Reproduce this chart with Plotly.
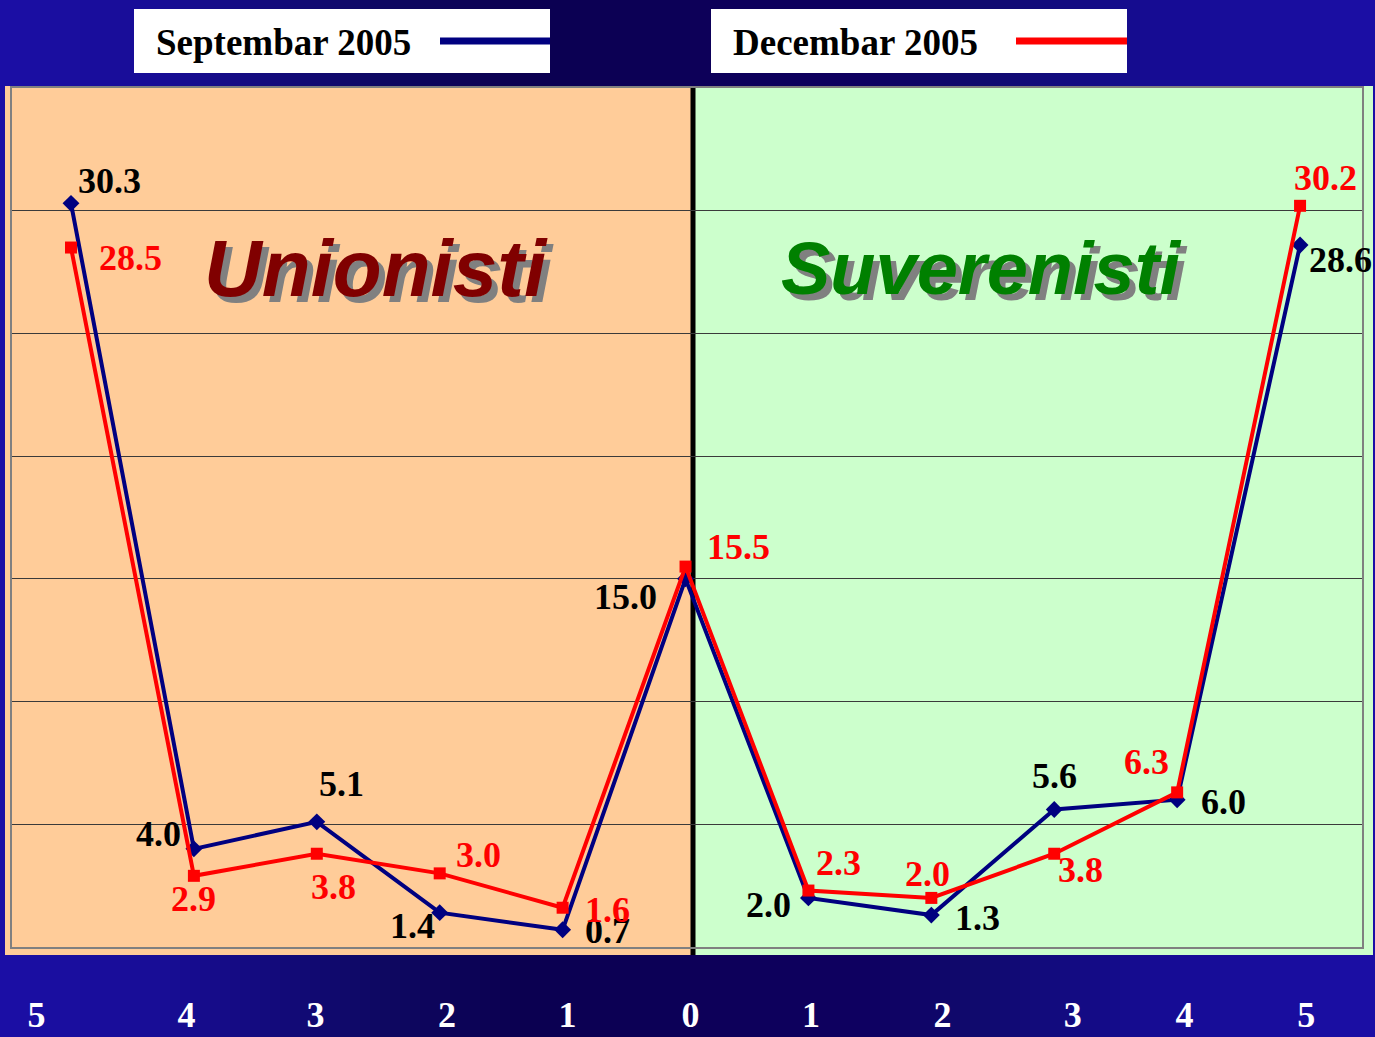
import plotly.graph_objects as go

# ---------------- data ----------------
categories = list(range(11))
tick_labels = ["5", "4", "3", "2", "1", "0", "1", "2", "3", "4", "5"]
sept_name = "Septembar 2005"
dec_name = "Decembar 2005"
sept_values = [30.3, 4.0, 5.1, 1.4, 0.7, 15.0, 2.0, 1.3, 5.6, 6.0, 28.6]
dec_values = [28.5, 2.9, 3.8, 3.0, 1.6, 15.5, 2.3, 2.0, 3.8, 6.3, 30.2]
group_left = "Unionisti"
group_right = "Suverenisti"

# ---------------- layout helpers (pixel geometry) ----------------
W, H = 1375, 1037
PL, PR, PT, PB = 12, 1362, 88, 947  # plot area in pixels


def px(xp):
    return (xp - PL) / (PR - PL)


def py(yp):
    return (PB - yp) / (PB - PT)


# label offsets (pixels) relative to each point
sept_off = [(39, 22), (-35, 15), (25, 38), (-27, -13), (45, -1), (-60, -18),
            (-40, -7), (46, -3), (0, 34), (46, -2), (40, -15)]
dec_off = [(60, -10), (0, -23), (17, -33), (39, 18), (45, -2), (53, 20),
           (30, 28), (-4, 24), (26, -16), (-31, 30), (25, 28)]
# tick label positions (slightly offset from category centres as in the original)
tick_pos = [-0.28, 0.94, 1.99, 3.06, 4.04, 5.04, 6.02, 7.09, 8.15, 9.06, 10.05]

NAVY = "#000080"
RED = "#FF0000"
LABEL_FONT = "Liberation Serif, Times New Roman, serif"

fig = go.Figure()
fig.add_trace(go.Scatter(
    x=categories, y=sept_values, mode="lines+markers", name=sept_name,
    line=dict(color=NAVY, width=4),
    marker=dict(symbol="diamond", size=13, color=NAVY),
    cliponaxis=False,
))
fig.add_trace(go.Scatter(
    x=categories, y=dec_values, mode="lines+markers", name=dec_name,
    line=dict(color=RED, width=4),
    marker=dict(symbol="square", size=12, color=RED),
    cliponaxis=False,
))

annotations = []
for xv, yv, (dx, dy) in zip(categories, sept_values, sept_off):
    annotations.append(dict(x=xv, y=yv, xref="x", yref="y", text=f"{yv:.1f}",
                            showarrow=False, xshift=dx, yshift=dy,
                            font=dict(family=LABEL_FONT, size=36, color="black", weight="bold")))
for xv, yv, (dx, dy) in zip(categories, dec_values, dec_off):
    annotations.append(dict(x=xv, y=yv, xref="x", yref="y", text=f"{yv:.1f}",
                            showarrow=False, xshift=dx, yshift=dy,
                            font=dict(family=LABEL_FONT, size=36, color=RED, weight="bold")))

# group titles
TITLE_FONT = "Liberation Sans, Arial, sans-serif"
annotations.append(dict(x=px(376), y=py(268), xref="paper", yref="paper", text=group_left,
                        showarrow=False, xanchor="center", yanchor="middle",
                        font=dict(family=TITLE_FONT, size=80, color="#800000", weight="bold",
                                  style="italic", shadow="6px 6px 0px #808080")))
annotations.append(dict(x=px(981), y=py(268), xref="paper", yref="paper", text=group_right,
                        showarrow=False, xanchor="center", yanchor="middle",
                        font=dict(family=TITLE_FONT, size=74, color="#008000", weight="bold",
                                  style="italic", shadow="6px 6px 0px #808080")))

shapes = []
# background gradient strips
stops = [(0, (27, 14, 165)), (160, (24, 13, 150)), (380, (14, 8, 98)), (520, (11, 0, 80)),
         (860, (14, 0, 96)), (980, (16, 10, 110)), (1160, (22, 12, 148)), (1375, (27, 14, 165))]


def col_at(xp):
    for (x0, c0), (x1, c1) in zip(stops[:-1], stops[1:]):
        if x0 <= xp <= x1:
            t = (xp - x0) / (x1 - x0)
            return "rgb(%d,%d,%d)" % tuple(round(a + (b - a) * t) for a, b in zip(c0, c1))
    return "rgb(27,14,165)"


step = 10
for xs in range(0, W, step):
    shapes.append(dict(type="rect", xref="paper", yref="paper", x0=px(xs), x1=px(xs + step + 1),
                       y0=py(H), y1=py(0), fillcolor=col_at(xs + step / 2), line=dict(width=0),
                       layer="below"))

# coloured halves
shapes.append(dict(type="rect", xref="paper", yref="paper", x0=px(5), x1=px(693), y0=py(955), y1=py(86),
                   fillcolor="#FFCC99", line=dict(width=0), layer="below"))
shapes.append(dict(type="rect", xref="paper", yref="paper", x0=px(693), x1=px(1373), y0=py(955), y1=py(86),
                   fillcolor="#CCFFCC", line=dict(width=0), layer="below"))
# divider
shapes.append(dict(type="line", xref="paper", yref="paper", x0=px(693), x1=px(693), y0=py(955), y1=py(86),
                   line=dict(color="black", width=5), layer="between"))

# legend boxes
legend_items = [(134, 550, 154, 440, sept_name, NAVY), (711, 1127, 731, 1016, dec_name, RED)]
for bx0, bx1, tx, lx0, name, colr in legend_items:
    shapes.append(dict(type="rect", xref="paper", yref="paper", x0=px(bx0), x1=px(bx1),
                       y0=py(73), y1=py(9), fillcolor="white", line=dict(width=0), layer="above"))
    shapes.append(dict(type="line", xref="paper", yref="paper", x0=px(lx0), x1=px(bx1),
                       y0=py(41), y1=py(41), line=dict(color=colr, width=7), layer="above"))
    annotations.append(dict(x=px(tx), y=py(42), xref="paper", yref="paper", text=name,
                            showarrow=False, xanchor="left", yanchor="middle",
                            font=dict(family=LABEL_FONT, size=37, color="black", weight="bold")))

fig.update_layout(
    width=W, height=H,
    margin=dict(l=PL, r=W - PR, t=PT, b=H - PB, autoexpand=False),
    paper_bgcolor="#150c8a",
    plot_bgcolor="rgba(0,0,0,0)",
    showlegend=False,
    shapes=shapes,
    annotations=annotations,
    xaxis=dict(range=[-0.48, 10.504], tickvals=tick_pos, ticktext=tick_labels,
               showgrid=False, zeroline=False, ticks="", automargin=False,
               showline=True, mirror=True, linecolor="#808080", linewidth=2,
               tickfont=dict(family=LABEL_FONT, size=36, color="white", weight="bold"),
               ticklabelstandoff=35),
    yaxis=dict(range=[0, 35], tickvals=[5, 10, 15, 20, 25, 30], showticklabels=False,
               showgrid=True, gridcolor="#3a3a3a", gridwidth=1, zeroline=False, ticks="",
               automargin=False,
               showline=True, mirror=True, linecolor="#808080", linewidth=2),
)

fig.write_html("out.html", config={"displayModeBar": False},
               post_script="document.body.style.margin='0px';")
